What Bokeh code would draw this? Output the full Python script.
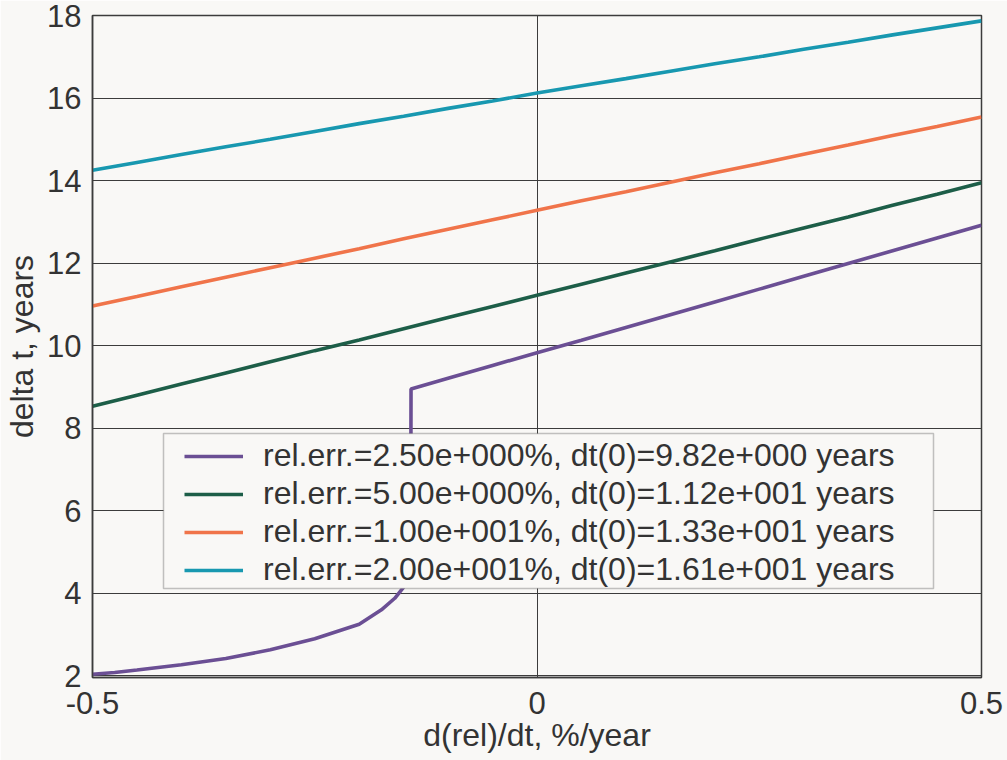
from bokeh.plotting import figure
from bokeh.models import Range1d, FixedTicker, Legend, LegendItem, BoxAnnotation
from bokeh.embed import file_html
from bokeh.resources import INLINE

# ---- data ----
x_grid = [-0.50, -0.45, -0.40, -0.35, -0.30, -0.25, -0.20, -0.15, -0.10, -0.05,
          0.00, 0.05, 0.10, 0.15, 0.20, 0.25, 0.30, 0.35, 0.40, 0.45, 0.50]

cyan_y = [14.25, 14.44, 14.63, 14.82, 15.00, 15.19, 15.38, 15.56, 15.75, 15.93,
          16.12, 16.30, 16.47, 16.65, 16.83, 17.00, 17.18, 17.35, 17.53, 17.70, 17.87]
orange_y = [10.96, 11.19, 11.43, 11.66, 11.89, 12.12, 12.35, 12.59, 12.82, 13.05,
            13.28, 13.51, 13.73, 13.96, 14.19, 14.41, 14.64, 14.86, 15.09, 15.31, 15.54]
green_y = [8.53, 8.80, 9.07, 9.34, 9.61, 9.88, 10.14, 10.41, 10.68, 10.95,
           11.22, 11.49, 11.76, 12.03, 12.30, 12.58, 12.85, 13.12, 13.40, 13.67, 13.95]

purple_x = [-0.50, -0.475, -0.45, -0.40, -0.35, -0.30, -0.25, -0.20, -0.175, -0.16, -0.15,
            -0.146, -0.1435, -0.1418, -0.1417, -0.10, -0.05, 0.00, 0.05, 0.10, 0.15,
            0.20, 0.25, 0.30, 0.35, 0.40, 0.45, 0.50]
purple_y = [2.04, 2.08, 2.14, 2.27, 2.42, 2.63, 2.90, 3.25, 3.60, 3.88, 4.15,
            4.60, 5.60, 7.90, 8.95, 9.21, 9.52, 9.83, 10.13, 10.44, 10.75,
            11.06, 11.37, 11.68, 11.99, 12.30, 12.61, 12.92]

series_labels = [
    "rel.err.=2.50e+000%, dt(0)=9.82e+000 years",
    "rel.err.=5.00e+000%, dt(0)=1.12e+001 years",
    "rel.err.=1.00e+001%, dt(0)=1.33e+001 years",
    "rel.err.=2.00e+001%, dt(0)=1.61e+001 years",
]
series_colors = ["#6b4f94", "#1d5e48", "#f0744a", "#1898b0"]

x_ticks = [-0.5, 0, 0.5]
x_tick_labels = ["-0.5", "0", "0.5"]
y_ticks = [2, 4, 6, 8, 10, 12, 14, 16, 18]

x_title = "d(rel)/dt, %/year"
y_title = "delta t, years"

BG = "#f9f8f6"
INK = "#333333"
GRID = "#3c3c3c"
FONT = "Liberation Sans"

p = figure(width=1007, height=760, output_backend="svg", toolbar_location=None,
           x_range=Range1d(-0.5, 0.5), y_range=Range1d(1.96, 18.0),
           min_border_left=92, min_border_right=26, min_border_top=15, min_border_bottom=83)
p.background_fill_color = BG
p.border_fill_color = BG
p.outline_line_color = GRID
p.outline_line_width = 1.5

series = [
    (purple_x, purple_y),
    (x_grid, green_y),
    (x_grid, orange_y),
    (x_grid, cyan_y),
]
renderers = []
for (xs, ys), c in zip(series, series_colors):
    r = p.line(xs, ys, line_color=c, line_width=3.6)
    renderers.append(r)

# axes
p.xaxis.ticker = FixedTicker(ticks=x_ticks)
p.xaxis.major_label_overrides = {t: l for t, l in zip(x_ticks, x_tick_labels)}
p.yaxis.ticker = FixedTicker(ticks=y_ticks)
for ax in (p.xaxis[0], p.yaxis[0]):
    ax.major_tick_in = 0
    ax.major_tick_out = 0
    ax.minor_tick_in = 0
    ax.minor_tick_out = 0
    ax.axis_line_color = GRID
    ax.axis_line_width = 1.5
    ax.major_label_text_font = FONT
    ax.major_label_text_font_size = "31px"
    ax.major_label_text_color = INK
    ax.axis_label_text_font = FONT
    ax.axis_label_text_font_size = "32px"
    ax.axis_label_text_font_style = "normal"
    ax.axis_label_text_color = INK
p.xaxis.axis_label = x_title
p.yaxis.axis_label = y_title
p.xaxis.major_label_standoff = 14
p.xaxis.axis_label_standoff = 0
p.yaxis.major_label_standoff = 11
p.yaxis.axis_label_standoff = 4

p.xgrid.ticker = FixedTicker(ticks=x_ticks)
p.ygrid.ticker = FixedTicker(ticks=y_ticks)
for g in (p.xgrid[0], p.ygrid[0]):
    g.grid_line_color = GRID
    g.grid_line_width = 1
    g.grid_line_alpha = 1.0

# legend frame (box) drawn behind the legend entries
box = BoxAnnotation(left=71, right=841, bottom=89, top=244,
                    left_units="screen", right_units="screen",
                    bottom_units="screen", top_units="screen",
                    fill_color=BG, fill_alpha=1.0,
                    line_color=GRID, line_width=1.5)
p.add_layout(box)

legend = Legend(items=[LegendItem(label=l, renderers=[r]) for l, r in zip(series_labels, renderers)],
                location=(87, 84), padding=5, spacing=1,
                glyph_width=59, glyph_height=36, label_height=36, label_standoff=20,
                label_text_font=FONT, label_text_font_size="32px", label_text_color=INK,
                border_line_alpha=0, background_fill_alpha=0, margin=0)
p.add_layout(legend)

open("out.html", "w").write(file_html(p, INLINE))
